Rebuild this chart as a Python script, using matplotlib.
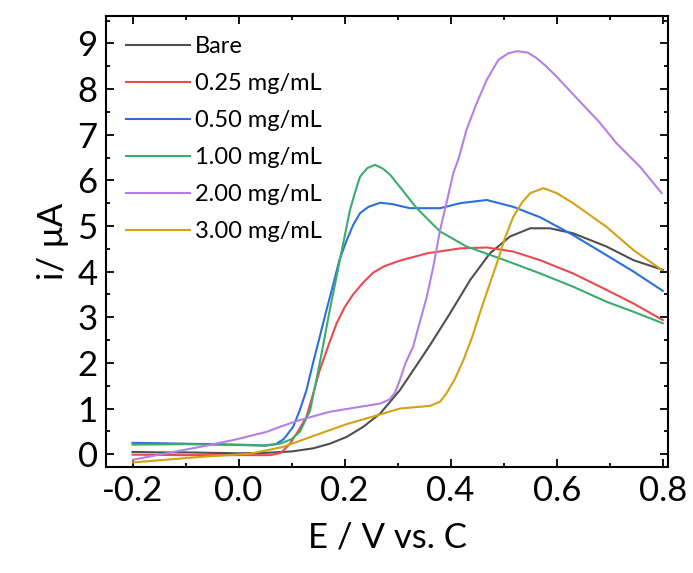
import matplotlib
matplotlib.use("Agg")
import matplotlib.pyplot as plt
from matplotlib.ticker import MultipleLocator

plt.rcParams['font.family'] = ['Lato', 'DejaVu Sans']

labels = ["Bare", "0.25 mg/mL", "0.50 mg/mL", "1.00 mg/mL", "2.00 mg/mL", "3.00 mg/mL"]
colors = ["#4f4f4f", "#e84a50", "#2b6fdc", "#3cab6e", "#b57fe6", "#d4a112"]

# values (E in V, i in uA)
bare_x = [-0.2, -0.15, -0.1, -0.05, 0.0, 0.05, 0.1, 0.141, 0.172, 0.204, 0.235,
          0.267, 0.304, 0.33, 0.361, 0.399, 0.437, 0.474, 0.512, 0.55, 0.587,
          0.631, 0.694, 0.745, 0.8]
bare_y = [0.05, 0.04, 0.04, 0.03, 0.02, 0.03, 0.06, 0.13, 0.23, 0.38, 0.60,
          0.89, 1.40, 1.85, 2.39, 3.09, 3.82, 4.40, 4.77, 4.95, 4.95,
          4.84, 4.55, 4.25, 4.04]

r025_x = [-0.2, -0.1, 0.0, 0.06, 0.08, 0.097, 0.112, 0.128, 0.14, 0.153, 0.17,
          0.185, 0.2, 0.216, 0.235, 0.254, 0.275, 0.304, 0.355, 0.418, 0.468,
          0.518, 0.569, 0.631, 0.694, 0.745, 0.8]
r025_y = [-0.01, -0.02, -0.02, -0.02, 0.03, 0.23, 0.50, 0.82, 1.30, 1.84, 2.40,
          2.87, 3.22, 3.50, 3.76, 3.98, 4.12, 4.24, 4.40, 4.51, 4.53,
          4.44, 4.25, 3.96, 3.60, 3.30, 2.94]

b050_x = [-0.2, -0.1, 0.0, 0.05, 0.07, 0.085, 0.103, 0.115, 0.128, 0.14, 0.153,
          0.166, 0.179, 0.19, 0.204, 0.216, 0.229, 0.245, 0.267, 0.29, 0.323,
          0.38, 0.418, 0.468, 0.518, 0.569, 0.631, 0.694, 0.745, 0.8]
b050_y = [0.25, 0.23, 0.21, 0.19, 0.22, 0.33, 0.60, 0.95, 1.40, 1.98, 2.57,
          3.17, 3.74, 4.25, 4.69, 5.02, 5.28, 5.42, 5.51, 5.48, 5.39,
          5.39, 5.50, 5.57, 5.42, 5.19, 4.80, 4.36, 4.00, 3.58]

g100_x = [-0.2, -0.1, 0.0, 0.05, 0.078, 0.1, 0.116, 0.135, 0.153, 0.172, 0.191,
          0.21, 0.22, 0.229, 0.243, 0.257, 0.272, 0.286, 0.304, 0.336, 0.38,
          0.43, 0.493, 0.569, 0.631, 0.694, 0.745, 0.8]
g100_y = [0.21, 0.22, 0.20, 0.19, 0.23, 0.33, 0.50, 0.96, 1.99, 3.16, 4.25,
          5.35, 5.75, 6.08, 6.27, 6.34, 6.26, 6.12, 5.86, 5.39, 4.88,
          4.55, 4.29, 3.96, 3.67, 3.34, 3.12, 2.87]

p200_x = [-0.199, -0.136, -0.073, -0.01, 0.053, 0.078, 0.116, 0.172, 0.235, 0.267,
          0.285, 0.295, 0.304, 0.315, 0.329, 0.342, 0.355, 0.368, 0.38, 0.393,
          0.405, 0.415, 0.43, 0.449, 0.468, 0.49, 0.508, 0.525, 0.545, 0.562,
          0.58, 0.6, 0.641, 0.68, 0.713, 0.757, 0.798]
p200_y = [-0.12, 0.02, 0.16, 0.31, 0.49, 0.60, 0.75, 0.93, 1.05, 1.11,
          1.20, 1.35, 1.62, 2.00, 2.35, 2.90, 3.45, 4.15, 4.91, 5.55,
          6.16, 6.48, 7.11, 7.69, 8.20, 8.64, 8.78, 8.83, 8.80, 8.68,
          8.50, 8.27, 7.76, 7.28, 6.81, 6.30, 5.72]

y300_x = [-0.199, -0.136, -0.073, 0.021, 0.084, 0.141, 0.204, 0.267, 0.304, 0.342,
          0.361, 0.38, 0.392, 0.408, 0.424, 0.44, 0.455, 0.471, 0.487, 0.502,
          0.518, 0.535, 0.55, 0.575, 0.6, 0.631, 0.694, 0.745, 0.798]
y300_y = [-0.18, -0.12, -0.06, 0.01, 0.16, 0.40, 0.66, 0.87, 1.00, 1.04,
          1.06, 1.15, 1.33, 1.65, 2.06, 2.55, 3.09, 3.64, 4.18, 4.72,
          5.20, 5.52, 5.72, 5.83, 5.72, 5.50, 4.98, 4.47, 4.04]

series = [(bare_x, bare_y), (r025_x, r025_y), (b050_x, b050_y),
          (g100_x, g100_y), (p200_x, p200_y), (y300_x, y300_y)]

fig = plt.figure(figsize=(6.93, 5.73), dpi=100)
ax = fig.add_axes([0.153, 0.185, 0.811, 0.787])

for (xs, ys), lab, c in zip(series, labels, colors):
    ax.plot(xs, ys, color=c, lw=1.5, label=lab, solid_joinstyle='round')

ax.set_xlim(-0.25, 0.81)
ax.set_ylim(-0.28, 9.6)
ax.xaxis.set_major_locator(MultipleLocator(0.2))
ax.xaxis.set_minor_locator(MultipleLocator(0.1))
ax.yaxis.set_major_locator(MultipleLocator(1))
ax.yaxis.set_minor_locator(MultipleLocator(0.5))
ax.set_xticks([-0.2, 0.0, 0.2, 0.4, 0.6, 0.8])
ax.set_xticklabels(["-0.2", "0.0", "0.2", "0.4", "0.6", "0.8"])

ax.tick_params(which='both', direction='in', top=True, right=True, width=1.3)
ax.tick_params(which='major', length=6, labelsize=25, pad=6)
ax.tick_params(which='minor', length=3)
for s in ax.spines.values():
    s.set_linewidth(1.5)

ax.set_xlabel("E / V vs. C", fontsize=25, labelpad=10)
ax.set_ylabel("i/ μA", fontsize=25, labelpad=6)

ax.legend(loc='upper left', frameon=False, fontsize=17, handlelength=2.7,
          handletextpad=0.22, labelspacing=0.68, borderaxespad=0.45)

fig.savefig("out.png", dpi=100)
